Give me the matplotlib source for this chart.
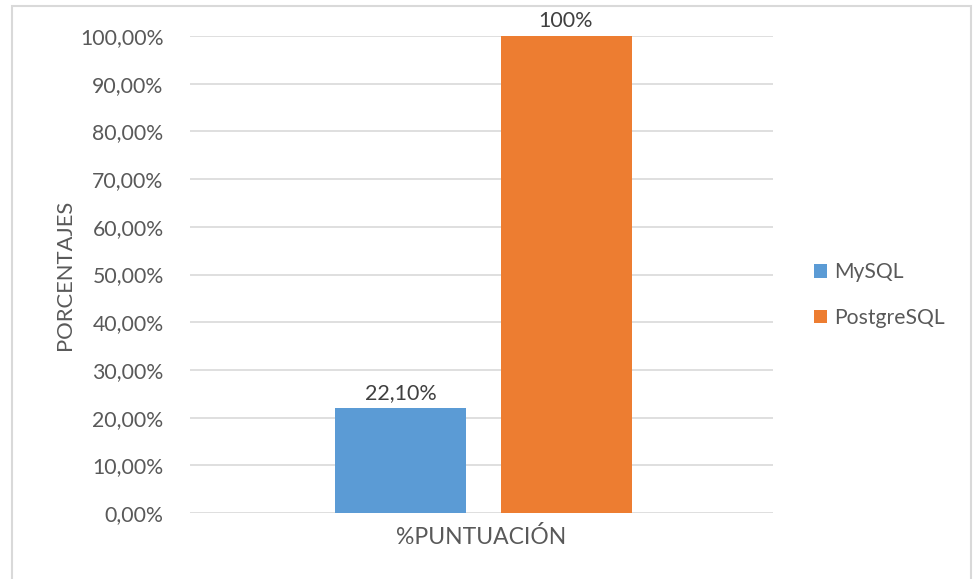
import matplotlib.pyplot as plt
from matplotlib.patches import Rectangle, Patch
from matplotlib.ticker import FuncFormatter

series = ["MySQL", "PostgreSQL"]
values = [22.10, 100.0]
value_labels = ["22,10%", "100%"]
colors = ["#5b9bd5", "#ed7d31"]
category = "%PUNTUACIÓN"
yticks = [0, 10, 20, 30, 40, 50, 60, 70, 80, 90, 100]

plt.rcParams['font.family'] = ['Lato', 'DejaVu Sans']
txt = "#595959"

fig = plt.figure(figsize=(9.73, 5.79), dpi=100)
ax = fig.add_axes([190/973, 66/579, 583/973, 477/579])

# outer chart border
fig.patches.append(Rectangle((12/973, -0.05), 959/973, 1.05 - 6/579,
                             transform=fig.transFigure, fill=False,
                             edgecolor="#d9d9d9", linewidth=1.5))

offsets = [-0.139, 0.145]
width = 0.2247
for s, v, lab, c, off in zip(series, values, value_labels, colors, offsets):
    ax.bar(off, v, width=width, color=c, zorder=3)
    ax.text(off, v + 1.0, lab, ha="center", va="bottom", fontsize=15.5, color="#404040")

ax.set_xlim(-0.5, 0.5)
ax.set_ylim(0, 100)
ax.set_yticks(yticks)
ax.yaxis.set_major_formatter(FuncFormatter(lambda v, p: f"{v:.2f}".replace(".", ",") + "%"))
ax.tick_params(axis="y", length=0, pad=19, labelsize=15.3, labelcolor=txt)
ax.set_xticks([0])
ax.set_xticklabels([category])
ax.tick_params(axis="x", length=0, pad=9, labelsize=16.5, labelcolor=txt)
ax.grid(axis="y", color="#d9d9d9", linewidth=1.2, zorder=0)
for sp in ax.spines.values():
    sp.set_visible(False)
ax.set_ylabel("PORCENTAJES", fontsize=15.8, color=txt, labelpad=4)

handles = [Patch(facecolor=c) for c in colors]
fig.legend(handles, series, loc="center left", bbox_to_anchor=(795/973, 1 - 295/579),
           frameon=False, fontsize=15.2, labelcolor=txt, handlelength=0.6, handleheight=0.6,
           handletextpad=0.35, labelspacing=1.2)

fig.savefig("out.png", dpi=100)
